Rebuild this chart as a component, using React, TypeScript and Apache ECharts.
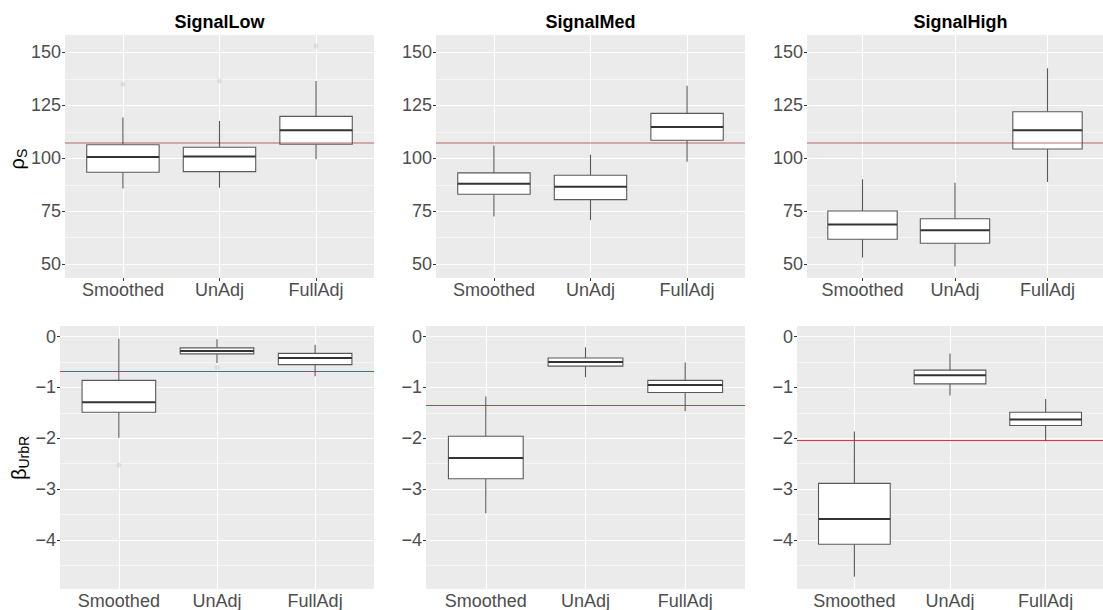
import React, { useEffect, useRef } from "react";
import * as echarts from "echarts";

const categories = ["Smoothed", "UnAdj", "FullAdj"];
const signals = ["SignalLow", "SignalMed", "SignalHigh"];

// box stats per category: [lower whisker, Q1, median, Q3, upper whisker]
const rhoLow = [[85.7, 93.4, 100.6, 106.4, 119.2], [86.1, 93.7, 100.8, 105.2, 117.6], [99.5, 106.6, 113.2, 119.8, 136.5]];
const rhoMed = [[72.5, 83.0, 88.0, 93.1, 106.1], [70.9, 80.5, 86.6, 92.0, 101.7], [98.4, 108.5, 114.8, 121.2, 134.3]];
const rhoHigh = [[53.1, 61.8, 68.7, 75.1, 90.1], [48.9, 59.9, 66.0, 71.5, 88.5], [88.8, 104.4, 113.2, 122.0, 142.5]];
const betaLow = [[-1.99, -1.49, -1.29, -0.86, -0.04], [-0.52, -0.34, -0.28, -0.22, -0.05], [-0.78, -0.55, -0.42, -0.33, -0.16]];
const betaMed = [[-3.48, -2.80, -2.39, -1.96, -1.18], [-0.80, -0.58, -0.50, -0.42, -0.21], [-1.47, -1.10, -0.95, -0.86, -0.51]];
const betaHigh = [[-4.73, -4.09, -3.59, -2.89, -1.87], [-1.16, -0.93, -0.76, -0.66, -0.33], [-2.06, -1.75, -1.63, -1.49, -1.23]];

// outliers: [category position (1-based), value]
const rhoLowOutliers = [[1, 134.9], [2, 136.5], [3, 153.0]];
const rhoMedOutliers: number[][] = [];
const rhoHighOutliers: number[][] = [];
const betaLowOutliers = [[1, -2.53], [2, -0.61]];
const betaMedOutliers: number[][] = [];
const betaHighOutliers: number[][] = [];

// reference (true) values
const rhoTrue = [107.5, 107.5, 107.5];
const betaTrue = [-0.68, -1.36, -2.04];

const rhoTicks = [50, 75, 100, 125, 150];
const rhoMinor = [62.5, 87.5, 112.5, 137.5];
const rhoRange = [43.5, 158.2];
const betaTicks = [0, -1, -2, -3, -4];
const betaMinor = [-0.5, -1.5, -2.5, -3.5, -4.5];
const betaRange = [-4.97, 0.21];

const FONT = "'Liberation Sans', Arial, Helvetica, sans-serif";

const topGrids = [
  { left: 65, width: 309 },
  { left: 436, width: 309 },
  { left: 807, width: 307 },
];
const bottomGrids = [
  { left: 60, width: 314 },
  { left: 426, width: 319 },
  { left: 797, width: 319 },
];

function fmtMinus(v: number) {
  return v < 0 ? "\u2212" + Math.abs(v) : String(v);
}

export default function App() {
  const ref = useRef<HTMLDivElement>(null);

  useEffect(() => {
    if (!ref.current) return;
    const chart = echarts.init(ref.current, null, { renderer: "svg" });

    const panels = [
      { row: 0, col: 0, stats: rhoLow, outliers: rhoLowOutliers, truth: rhoTrue[0] },
      { row: 0, col: 1, stats: rhoMed, outliers: rhoMedOutliers, truth: rhoTrue[1] },
      { row: 0, col: 2, stats: rhoHigh, outliers: rhoHighOutliers, truth: rhoTrue[2] },
      { row: 1, col: 0, stats: betaLow, outliers: betaLowOutliers, truth: betaTrue[0] },
      { row: 1, col: 1, stats: betaMed, outliers: betaMedOutliers, truth: betaTrue[1] },
      { row: 1, col: 2, stats: betaHigh, outliers: betaHighOutliers, truth: betaTrue[2] },
    ];

    const grid: any[] = [];
    const xAxis: any[] = [];
    const yAxis: any[] = [];
    const series: any[] = [];

    panels.forEach((p, i) => {
      const g = p.row === 0 ? topGrids[p.col] : bottomGrids[p.col];
      grid.push({
        left: g.left,
        width: g.width,
        top: p.row === 0 ? 35 : 326,
        height: p.row === 0 ? 243 : 264,
        show: true,
        backgroundColor: "#EBEBEB",
        borderWidth: 0,
        containLabel: false,
      });
      xAxis.push({
        type: "value",
        gridIndex: i,
        min: 0.4,
        max: 3.6,
        axisLine: { show: false },
        splitLine: { show: false },
        axisTick: { show: true, customValues: [1, 2, 3], length: 3, lineStyle: { color: "#333333", width: 1 } },
        axisLabel: {
          customValues: [1, 2, 3],
          formatter: (v: number) => categories[Math.round(v) - 1] ?? "",
          fontSize: 18,
          fontFamily: FONT,
          color: "#4D4D4D",
          margin: 3,
        },
      });
      const ticks = p.row === 0 ? rhoTicks : betaTicks;
      const minor = p.row === 0 ? rhoMinor : betaMinor;
      const range = p.row === 0 ? rhoRange : betaRange;
      yAxis.push({
        type: "value",
        gridIndex: i,
        min: range[0],
        max: range[1],
        axisLine: { show: false },
        splitLine: { show: false },
        axisTick: { show: true, customValues: ticks, length: 3, lineStyle: { color: "#333333", width: 1 } },
        axisLabel: {
          customValues: ticks,
          formatter: (v: number) => fmtMinus(v),
          fontSize: 18,
          fontFamily: FONT,
          color: "#4D4D4D",
          margin: 4,
        },
      });

      // gridlines
      const glData: any[] = [];
      ticks.forEach((t) => glData.push({ yAxis: t, lineStyle: { color: "#FFFFFF", width: 1.1, type: "solid" } }));
      minor.forEach((t) => glData.push({ yAxis: t, lineStyle: { color: "#FFFFFF", width: 0.55, type: "solid" } }));
      [1, 2, 3].forEach((t) => glData.push({ xAxis: t, lineStyle: { color: "#FFFFFF", width: 1.1, type: "solid" } }));
      series.push({
        type: "line",
        xAxisIndex: i,
        yAxisIndex: i,
        data: [],
        silent: true,
        markLine: {
          silent: true,
          symbol: "none",
          z: 1,
          label: { show: false },
          animation: false,
          data: glData,
        },
      });

      // reference line below boxes for bottom row
      if (p.row === 1) {
        series.push({
          type: "line",
          xAxisIndex: i,
          yAxisIndex: i,
          data: [],
          silent: true,
          markLine: {
            silent: true,
            symbol: "none",
            z: 1.5,
            label: { show: false },
            animation: false,
            data: [{ yAxis: p.truth, lineStyle: { color: "#B04A48", width: 1.2, type: "solid" } }],
          },
        });
      }

      // boxes
      series.push({
        type: "custom",
        xAxisIndex: i,
        yAxisIndex: i,
        z: 2,
        encode: { x: 0, y: [1, 2, 3, 4, 5] },
        data: p.stats.map((s, k) => [k + 1, ...s]),
        renderItem: (params: any, api: any) => {
          const x = api.value(0);
          const lo = api.coord([x, api.value(1)]);
          const q1 = api.coord([x, api.value(2)]);
          const med = api.coord([x, api.value(3)]);
          const q3 = api.coord([x, api.value(4)]);
          const hi = api.coord([x, api.value(5)]);
          const w = api.size([0.75, 0])[0];
          const cx = q1[0];
          const stroke = "#595959";
          return {
            type: "group",
            children: [
              { type: "line", shape: { x1: cx, y1: hi[1], x2: cx, y2: q3[1] }, style: { stroke, lineWidth: 1.1 } },
              { type: "line", shape: { x1: cx, y1: q1[1], x2: cx, y2: lo[1] }, style: { stroke, lineWidth: 1.1 } },
              {
                type: "rect",
                shape: { x: cx - w / 2, y: q3[1], width: w, height: q1[1] - q3[1] },
                style: { fill: "#FFFFFF", stroke, lineWidth: 1.1 },
              },
              {
                type: "line",
                shape: { x1: cx - w / 2, y1: med[1], x2: cx + w / 2, y2: med[1] },
                style: { stroke: "#333333", lineWidth: 2 },
              },
            ],
          };
        },
      });

      // outliers
      series.push({
        type: "scatter",
        xAxisIndex: i,
        yAxisIndex: i,
        z: 3,
        symbol: "circle",
        symbolSize: 5,
        itemStyle: { color: "rgba(160,160,160,0.3)" },
        data: p.outliers,
        silent: true,
      });

      // reference line above boxes for top row
      if (p.row === 0) {
        series.push({
          type: "line",
          xAxisIndex: i,
          yAxisIndex: i,
          data: [],
          silent: true,
          markLine: {
            silent: true,
            symbol: "none",
            z: 5,
            label: { show: false },
            animation: false,
            data: [{ yAxis: p.truth, lineStyle: { color: "rgba(178,34,34,0.35)", width: 2, type: "solid" } }],
          },
        });
      }
    });

    const graphic: any[] = [];
    signals.forEach((s, c) => {
      const g = topGrids[c];
      graphic.push({
        type: "text",
        x: g.left + g.width / 2,
        y: 21.5,
        style: {
          text: s,
          fontSize: 18,
          fontWeight: "bold",
          fontFamily: FONT,
          fill: "#000000",
          textAlign: "center",
          textVerticalAlign: "middle",
        },
      });
    });

    // y-axis titles (rotated, with subscripts)
    graphic.push({
      type: "group",
      x: 17,
      y: 157,
      rotation: Math.PI / 2,
      children: [
        {
          type: "text",
          x: -1,
          y: 0,
          style: { text: "\u03c1", fontSize: 20, fontFamily: FONT, fill: "#000000", textAlign: "right", textVerticalAlign: "middle" },
        },
        {
          type: "text",
          x: -1,
          y: 5,
          style: { text: "S", fontSize: 14, fontFamily: FONT, fill: "#000000", textAlign: "left", textVerticalAlign: "middle" },
        },
      ],
    });
    graphic.push({
      type: "group",
      x: 19,
      y: 458,
      rotation: Math.PI / 2,
      children: [
        {
          type: "text",
          x: -10.5,
          y: 0,
          style: { text: "\u03b2", fontSize: 20, fontFamily: FONT, fill: "#000000", textAlign: "right", textVerticalAlign: "middle" },
        },
        {
          type: "text",
          x: -10.5,
          y: 5,
          style: { text: "UrbR", fontSize: 14, fontFamily: FONT, fill: "#000000", textAlign: "left", textVerticalAlign: "middle" },
        },
      ],
    });

    chart.setOption({
      animation: false,
      backgroundColor: "#FFFFFF",
      grid,
      xAxis,
      yAxis,
      series,
      graphic,
    });

    return () => chart.dispose();
  }, []);

  return (
    <div
      ref={ref}
      style={{ position: "fixed", left: 0, top: 0, width: 1103, height: 610 }}
    />
  );
}
